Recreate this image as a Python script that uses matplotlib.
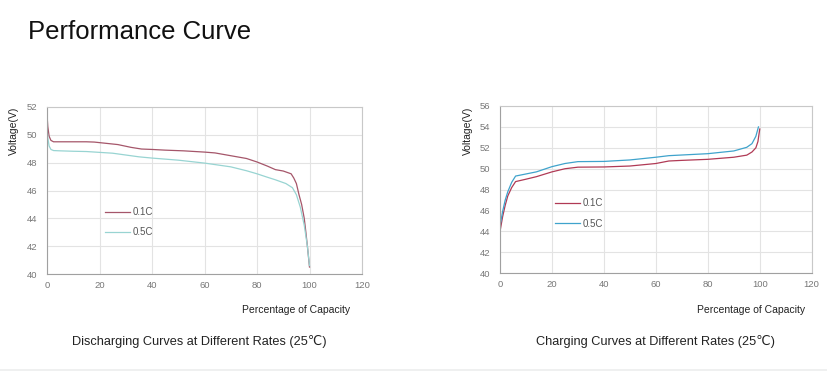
import matplotlib
matplotlib.use("Agg")
import matplotlib.pyplot as plt

# discharging curves, % capacity vs voltage
dis_x_01 = [0, 0.3, 0.8, 1.5, 2.5, 5, 10, 15, 18, 22, 27, 32, 36, 40, 45, 52, 60, 64, 70, 76, 80, 84, 87, 90, 93, 94, 95, 96, 97, 98, 98.5, 99.2, 100]
dis_y_01 = [51.5, 50.6, 49.9, 49.6, 49.5, 49.5, 49.5, 49.5, 49.48, 49.4, 49.3, 49.1, 48.98, 48.95, 48.9, 48.85, 48.76, 48.7, 48.5, 48.3, 48.05, 47.75, 47.5, 47.4, 47.2, 46.9, 46.5, 45.7, 45.0, 44.0, 43.2, 42.0, 40.5]
dis_x_05 = [0, 0.3, 0.8, 1.5, 2.5, 5, 10, 15, 20, 25, 30, 35, 40, 50, 60, 70, 76, 80, 84, 87, 91, 93.5, 95, 96.5, 98, 99.2, 100]
dis_y_05 = [50.6, 49.8, 49.2, 48.95, 48.87, 48.85, 48.82, 48.8, 48.74, 48.68, 48.55, 48.42, 48.33, 48.18, 47.97, 47.7, 47.42, 47.2, 46.95, 46.77, 46.5, 46.2, 45.7, 44.8, 43.5, 42.0, 40.6]

# charging curves
chg_x_01 = [0, 1, 2, 3, 4.5, 6, 10, 14, 20, 25, 30, 40, 50, 60, 65, 70, 80, 90, 95, 97, 98.5, 99.3, 100]
chg_y_01 = [44.0, 45.4, 46.5, 47.4, 48.2, 48.77, 49.0, 49.24, 49.7, 50.0, 50.15, 50.17, 50.26, 50.5, 50.74, 50.8, 50.9, 51.1, 51.3, 51.6, 52.0, 52.6, 53.8]
chg_x_05 = [0, 1, 2, 3, 4.5, 6, 10, 14, 20, 25, 30, 40, 50, 60, 65, 80, 90, 95, 97, 98.5, 99.5]
chg_y_05 = [44.5, 45.9, 47.0, 47.8, 48.7, 49.3, 49.5, 49.7, 50.2, 50.5, 50.68, 50.7, 50.84, 51.1, 51.25, 51.44, 51.7, 52.05, 52.4, 53.1, 54.0]

x_ticks = [0, 20, 40, 60, 80, 100, 120]
dis_y_ticks = [40, 42, 44, 46, 48, 50, 52]
chg_y_ticks = [40, 42, 44, 46, 48, 50, 52, 54, 56]

plt.rcParams["font.family"] = ["Liberation Sans", "DejaVu Sans"]

fig = plt.figure(figsize=(8.28, 3.71), dpi=100)
fig.text(28 / 828, 1 - 32 / 371, "Performance Curve", fontsize=18.5, va="center", ha="left", color="#111111")
# faint separator along the bottom edge
fig.add_artist(plt.Line2D([0, 1], [0.004, 0.004], color="#eceeee", lw=1.2, transform=fig.transFigure))


def setup(ax, yticks, lines, leg_anchor, title, title_x, ylab_x, xlab_right):
    for x, y, c, lab in lines:
        ax.plot(x, y, color=c, lw=0.9, label=lab)
    ax.set_xlim(0, 120)
    ax.set_ylim(yticks[0], yticks[-1])
    ax.set_xticks(x_ticks)
    ax.set_yticks(yticks)
    ax.grid(True, color="#e3e3e3", lw=0.8)
    ax.set_axisbelow(True)
    for s in ax.spines.values():
        s.set_color("#c8c8c8")
        s.set_linewidth(0.8)
    ax.spines["left"].set_color("#a0a0a0")
    ax.spines["bottom"].set_color("#a0a0a0")
    ax.tick_params(length=0, labelsize=6.8, labelcolor="#777777")
    ax.tick_params(axis="y", pad=7)
    ax.tick_params(axis="x", pad=5)
    leg = ax.legend(loc="center left", bbox_to_anchor=leg_anchor, frameon=False,
                    fontsize=7, handlelength=2.6, handletextpad=0.25,
                    labelspacing=1.05, borderpad=0, borderaxespad=0)
    for t in leg.get_texts():
        t.set_color("#555555")
    fig.text(title_x, 1 - 341 / 371, title, fontsize=9.2, ha="center", va="center", color="#222222")
    fig.text(ylab_x, 1 - 131 / 371, "Voltage(V)", rotation=90, fontsize=7.5,
             ha="center", va="center", color="#222222")
    fig.text(xlab_right, 1 - 310 / 371, "Percentage of Capacity", fontsize=7.5,
             ha="right", va="center", color="#222222")


ax1 = fig.add_axes([47 / 828, 97 / 371, 315 / 828, 167 / 371])
setup(ax1, dis_y_ticks,
      [(dis_x_01, dis_y_01, "#a5566a", "0.1C"), (dis_x_05, dis_y_05, "#98d4d2", "0.5C")],
      (0.184, 0.311), "Discharging Curves at Different Rates (25℃)", 199 / 828, 14 / 828, 350 / 828)

ax2 = fig.add_axes([500 / 828, 97.7 / 371, 311.7 / 828, 167.3 / 371])
setup(ax2, chg_y_ticks,
      [(chg_x_01, chg_y_01, "#b03a55", "0.1C"), (chg_x_05, chg_y_05, "#3fa3cc", "0.5C")],
      (0.176, 0.357), "Charging Curves at Different Rates (25℃)", 656 / 828, 468 / 828, 805 / 828)

fig.savefig("out.png", dpi=100, facecolor="white")
